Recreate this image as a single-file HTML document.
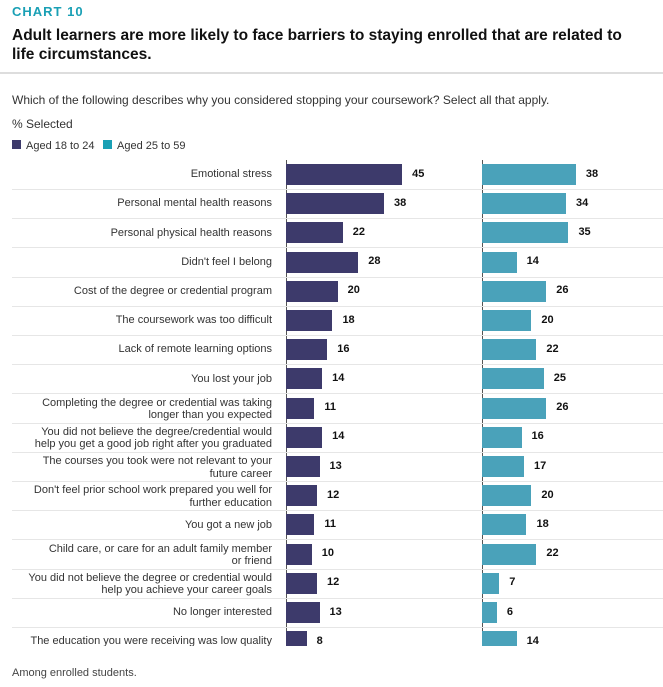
<!DOCTYPE html>
<html><head><meta charset="utf-8"><style>
body{margin:0;width:663px;height:687px;background:#fff;font-family:"Liberation Sans",sans-serif;color:#222;position:relative;overflow:hidden}
.abs{position:absolute}
</style></head><body>
<div class="abs" style="left:12px;top:4px;font-size:13px;font-weight:bold;color:#1aa0b5;letter-spacing:1px">CHART 10</div>
<div class="abs" style="left:12px;top:26px;width:615px;font-size:15.5px;font-weight:bold;line-height:19px;color:#111">Adult learners are more likely to face barriers to staying enrolled that are related to life circumstances.</div>
<div class="abs" style="left:0;top:72px;width:663px;height:2px;background:#ddd"></div>
<div class="abs" style="left:12px;top:93px;font-size:12px;color:#333">Which of the following describes why you considered stopping your coursework? Select all that apply.</div>
<div class="abs" style="left:12px;top:117px;font-size:12px;color:#333">% Selected</div>
<div class="abs" style="left:12px;top:140px;font-size:11px;color:#333"><span style="display:inline-block;width:9px;height:9px;background:#3d3a6b;margin-right:5px"></span>Aged 18 to 24</div>
<div class="abs" style="left:103px;top:140px;font-size:11px;color:#333"><span style="display:inline-block;width:9px;height:9px;background:#1aa0b5;margin-right:5px"></span>Aged 25 to 59</div>
<div class="abs" id="plot" style="left:0;top:160px;width:663px;height:486px;overflow:hidden"></div>
<div class="abs" style="left:12px;top:667px;font-size:11px;color:#444">Among enrolled students.</div>
<script>
const categories=["Emotional stress","Personal mental health reasons","Personal physical health reasons","Didn't feel I belong","Cost of the degree or credential program","The coursework was too difficult","Lack of remote learning options","You lost your job","Completing the degree or credential was taking|longer than you expected","You did not believe the degree/credential would|help you get a good job right after you graduated","The courses you took were not relevant to your|future career","Don't feel prior school work prepared you well for|further education","You got a new job","Child care, or care for an adult family member|or friend","You did not believe the degree or credential would|help you achieve your career goals","No longer interested","The education you were receiving was low quality"];
const young=[45,38,22,28,20,18,16,14,11,14,13,12,11,10,12,13,8];
const adult=[38,34,35,14,26,20,22,25,26,16,17,20,18,22,7,6,14];
const plot=document.getElementById('plot');
const pitch=29.2, top0=4, bh=21;
const xl=v=>v*2.58, xr=v=>v*2.47;
const L0=286,R0=482;
function mk(style,name,txt){const d=document.createElement('div');d.className='abs';d.style.cssText=style;


if(txt!==undefined)d.innerHTML=txt;plot.appendChild(d);return d;}
mk(`left:${L0}px;top:0;width:1px;height:486px;background:#555`,'axis-left');
mk(`left:${R0}px;top:0;width:1px;height:486px;background:#555`,'axis-right');
categories.forEach((c,i)=>{
 const y=top0+i*pitch, cy=y+bh/2;
 if(i<categories.length-1) mk(`left:12px;top:${y+bh+4}px;width:651px;height:1px;background:#e6e6e6`,'row-separator');
 const lines=c.split('|');
 const lh=12.5, th=lines.length*lh;
 mk(`left:0;width:272px;text-align:right;top:${cy-th/2+(lines.length>1?1:0)}px;font-size:11px;line-height:${lh}px;color:#333`,'category-label',lines.join('<br>'));
 const w1=xl(young[i]), w2=xr(adult[i]);
 mk(`left:${L0}px;top:${y}px;width:${w1}px;height:${bh}px;background:#3d3a6b`,'bar-aged-18-24');
 mk(`left:${L0+w1+10}px;top:${cy-7}px;font-size:11px;font-weight:bold;color:#111`,'value-label',young[i]);
 mk(`left:${R0}px;top:${y}px;width:${w2}px;height:${bh}px;background:#4aa2ba`,'bar-aged-25-59');
 mk(`left:${R0+w2+10}px;top:${cy-7}px;font-size:11px;font-weight:bold;color:#111`,'value-label',adult[i]);
});
</script>
</body></html>
